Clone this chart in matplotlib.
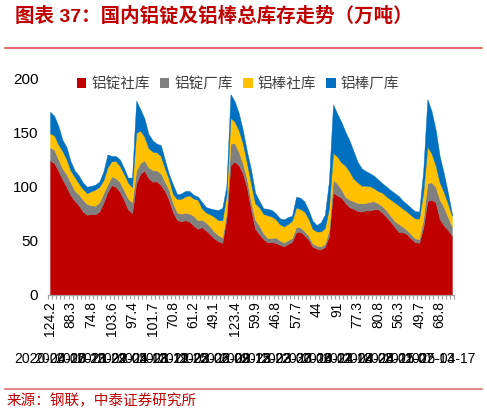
import matplotlib
matplotlib.use('Agg')
import matplotlib.pyplot as plt
import numpy as np
from matplotlib.patches import Rectangle
from matplotlib.lines import Line2D
import matplotlib.transforms as mtransforms

plt.rcParams['font.family'] = ['Liberation Sans', 'Noto Sans CJK SC', 'DejaVu Sans']

series_names = ['铝锭社库', '铝锭厂库', '铝棒社库', '铝棒厂库']
colors = ['#C00000', '#808080', '#FFC000', '#0070C0']

ingot_social = [124.2, 122, 115, 107, 100, 92, 87, 82.7, 77, 74,
                74.8, 74.4, 77, 85, 95, 101.6, 100, 95.4, 88, 79,
                75.6, 103, 112, 115, 108, 104.7, 105, 101.7, 96, 87.7,
                76, 69, 68, 69, 67.5, 64, 61, 62.5, 59.5, 56,
                52, 49.5, 48, 70, 120, 123.4, 120, 112.4, 99, 79,
                61, 56, 51.5, 48.5, 48.5, 48, 46.3, 44.7, 46.9, 49,
                57.7, 58.3, 55, 51, 44.5, 42.5, 42, 44, 54, 94.5,
                92, 90, 85, 81, 79.5, 77.5, 77, 78, 78, 79,
                79, 76, 72, 67.7, 62.7, 58, 57.8, 56, 52, 48.5,
                48, 62, 86.6, 88, 85.5, 70, 64.3, 60, 54.4]
ingot_plant = [12.3, 12.4, 10.7, 10.1, 11.5, 12, 9.6, 10.2, 11, 10,
               8, 8, 8.5, 9, 7, 8, 8, 9, 9, 10,
               10, 12, 10, 9.5, 10, 10.8, 10, 10.8, 8.7, 9.3,
               8.6, 7, 7, 7, 7.5, 9, 8, 7, 7.4, 7,
               6.3, 5.7, 5, 6, 20, 17, 12.5, 9.3, 8, 7,
               8.5, 8, 5.5, 4, 4, 5, 4, 3.5, 3.5, 3.5,
               5, 4, 4, 3.5, 3, 3, 2.5, 3, 6, 12,
               11, 7.6, 5.8, 7, 7, 7.5, 7.5, 7, 8, 7.5,
               5.5, 6, 6, 5.6, 5.5, 7.5, 5.2, 4, 4, 3.5,
               3.5, 8, 16.9, 16, 14.5, 18, 17, 12, 8.5]
rod_social = [13, 13.3, 13.9, 16, 14.2, 11, 12.4, 10.2, 9.9, 10,
              13, 15, 14.5, 12, 16, 14, 16, 15, 15, 15,
              14, 35, 30, 22, 18, 17, 17, 16, 12.3, 9.8,
              8.3, 12.6, 13.8, 15, 17, 16, 19, 10.5, 9.3, 11.4,
              13.9, 13.9, 16, 16, 24, 20, 20, 18.6, 15, 17,
              15, 17, 18, 21, 20, 17, 15, 15, 15, 16,
              18, 17, 18, 16, 13.5, 13, 14, 14.5, 20, 25,
              25, 25, 28.8, 26, 21, 19, 16.5, 16, 14.5, 12,
              11.5, 12.5, 13, 15, 17.3, 17.2, 16.7, 17, 17.6, 18.6,
              19, 25, 33.5, 27, 20, 16, 13.8, 12.5, 10]
rod_plant = [20.1, 18.2, 17.1, 10.5, 11.2, 8.7, 6, 7.4, 6, 6,
             5, 4.5, 4.7, 8, 12, 5, 4.5, 6, 5.5, 4.4,
             9, 30, 20, 17, 13, 10.5, 8, 10.2, 7.8, 4.7,
             8.7, 4.3, 5, 5.2, 4, 3.5, 3, 6.1, 5, 5.5,
             6.8, 9.3, 11.4, 9, 22, 19, 16, 12.3, 11, 13,
             10, 6, 5, 6, 6, 5.5, 5.5, 6.5, 6.5, 4.5,
             10, 10.5, 9.5, 8, 7.5, 6, 8.5, 12.5, 25, 45,
             40, 37.7, 31.5, 29, 25.5, 19, 16, 13.5, 12, 11.7,
             10.7, 8.8, 9.2, 8.7, 8.7, 8.7, 7.5, 7, 6.9, 6.7,
             6.5, 20, 44.3, 39.5, 33.5, 24.5, 17.5, 10.2, 2]

tick_labels = ['124.2', '88.3', '74.8', '103.6', '97.4', '101.7', '70.8', '61.2', '49.1', '123.4',
               '59.9', '46.8', '57.7', '44', '91', '77.3', '80.8', '56.3', '49.7', '68.8']
date_labels = ['2020-04-16', '2020-07-23', '2020-10-29', '2021-02-04', '2021-05-13',
               '2021-08-19', '2021-11-25', '2022-03-03', '2022-06-09', '2022-09-15',
               '2022-12-22', '2023-03-30', '2023-07-06', '2023-10-12', '2024-01-18',
               '2024-04-25', '2024-08-01', '2024-11-07', '2025-02-13', '2025-04-17']
y_ticks = [0, 50, 100, 150, 200]

W, H = 487, 413
fig = plt.figure(figsize=(W / 100, H / 100), dpi=100)
fig.patch.set_facecolor('white')

ax = fig.add_axes([48 / W, 1 - 294.5 / H, 406 / W, 215.5 / H])
x = np.arange(len(ingot_social))
ax.stackplot(x, ingot_social, ingot_plant, rod_social, rod_plant,
             colors=colors, edgecolor='face', linewidth=0.3)
ax.set_xlim(-0.5, len(x) - 0.5)
ax.set_ylim(0, 200)

for s in ['left', 'top', 'right']:
    ax.spines[s].set_visible(False)
ax.spines['bottom'].set_color('#A0A0A0')
ax.spines['bottom'].set_linewidth(0.9)

ax.set_yticks(y_ticks)
ax.set_yticklabels([str(v) for v in y_ticks])
ax.tick_params(axis='y', length=0, pad=7, labelsize=11, labelcolor='#000000')

major_pos = np.arange(0, len(x), 5)[:len(tick_labels)]
ax.set_xticks(major_pos)
ax.set_xticklabels(tick_labels, rotation=90, fontsize=10)
ax.tick_params(axis='x', which='major', length=0, pad=5)
ax.set_xticks(np.arange(-0.5, len(x), 1), minor=True)
ax.tick_params(axis='x', which='minor', length=3, color='#A0A0A0', width=0.8)

trans = mtransforms.blended_transform_factory(ax.transData, ax.transAxes)
for p, lab in zip(major_pos, date_labels):
    ax.text(p, -0.299, lab, transform=trans, ha='center', va='center',
            fontsize=10, color='#000000', clip_on=False)

handles = [Rectangle((0, 0), 1, 1, facecolor=c, edgecolor='none') for c in colors]
fig.legend(handles, series_names, loc='center', bbox_to_anchor=(238 / W, 1 - 84 / H),
           ncol=4, frameon=False, handlelength=0.65, handleheight=0.65,
           handletextpad=0.35, columnspacing=0.7,
           prop={'family': ['Noto Sans CJK SC'], 'size': 10.5}, labelcolor='#404040')

fig.text(15 / W, 1 - 16 / H, '图表 37：国内铝锭及铝棒总库存走势（万吨）',
         ha='left', va='center', fontsize=14, fontweight='bold', color='#C00000',
         family=['Liberation Sans', 'Noto Sans CJK SC'])
fig.add_artist(Line2D([5 / W, 482 / W], [1 - 48.3 / H] * 2, color='#E05050', lw=1.2))
fig.add_artist(Line2D([5 / W, 482 / W], [1 - 389.3 / H] * 2, color='#E07070', lw=1.2))
fig.text(7 / W, 1 - 401 / H, '来源：钢联，中泰证券研究所', ha='left', va='center',
         fontsize=10.5, color='#C00000', family=['Noto Sans CJK SC'])

fig.savefig('out.png', dpi=100, facecolor='white')
